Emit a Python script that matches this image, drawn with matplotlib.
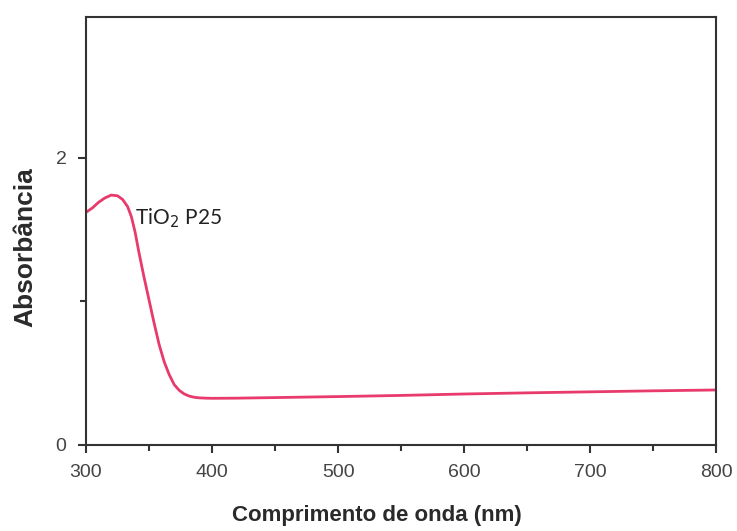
import numpy as np
import matplotlib.pyplot as plt
from matplotlib.ticker import MultipleLocator

# Absorbance spectrum of TiO2 P25
wavelength = [300, 305, 310, 315, 320, 325, 329, 333, 336, 339, 342, 346, 350, 354,
              358, 362, 366, 370, 374, 378, 382, 386, 390, 395, 400, 420,
              450, 500, 550, 600, 650, 700, 750, 800]
absorbance = [1.62, 1.65, 1.69, 1.72, 1.74, 1.735, 1.71, 1.66, 1.59, 1.48, 1.34, 1.17, 1.01, 0.85,
              0.70, 0.58, 0.49, 0.42, 0.38, 0.355, 0.34, 0.332, 0.328, 0.326, 0.325, 0.326,
              0.33, 0.337, 0.345, 0.355, 0.363, 0.37, 0.377, 0.383]

x_ticks = [300, 400, 500, 600, 700, 800]
y_ticks = [0, 2]

fig = plt.figure(figsize=(7.37, 5.31), dpi=100)
ax = fig.add_axes([0.1167, 0.162, 0.855, 0.806])

ax.plot(wavelength, absorbance, color='#e83a6c', linewidth=2)
ax.text(339, 1.58, 'TiO$_2$ P25', fontsize=15, family='Lato', color='#222222', va='center')

ax.set_xlim(300, 800)
ax.set_ylim(0, 2.98)
ax.set_xticks(x_ticks)
ax.set_yticks(y_ticks)
ax.xaxis.set_minor_locator(MultipleLocator(50))
ax.yaxis.set_minor_locator(MultipleLocator(1))

for s in ax.spines.values():
    s.set_linewidth(1.5)
    s.set_color('#333333')

ax.tick_params(which='both', direction='out', top=False, right=False,
               width=1.5, color='#333333', labelsize=14, labelcolor='#444444')
ax.tick_params(which='major', length=6, pad=8)
ax.tick_params(which='minor', length=4)

ax.set_xlabel('Comprimento de onda (nm)', fontsize=16, family='Liberation Sans',
              weight='bold', color='#2a2a2a', va='center')
ax.set_ylabel('Absorbância', fontsize=19, family='Liberation Sans',
              weight='bold', color='#2a2a2a', va='center')
ax.xaxis.set_label_coords(0.462, -0.164)
ax.yaxis.set_label_coords(-0.097, 0.463)
for lbl in ax.get_xticklabels() + ax.get_yticklabels():
    lbl.set_family('Liberation Sans')

fig.savefig('out.png', dpi=100)
